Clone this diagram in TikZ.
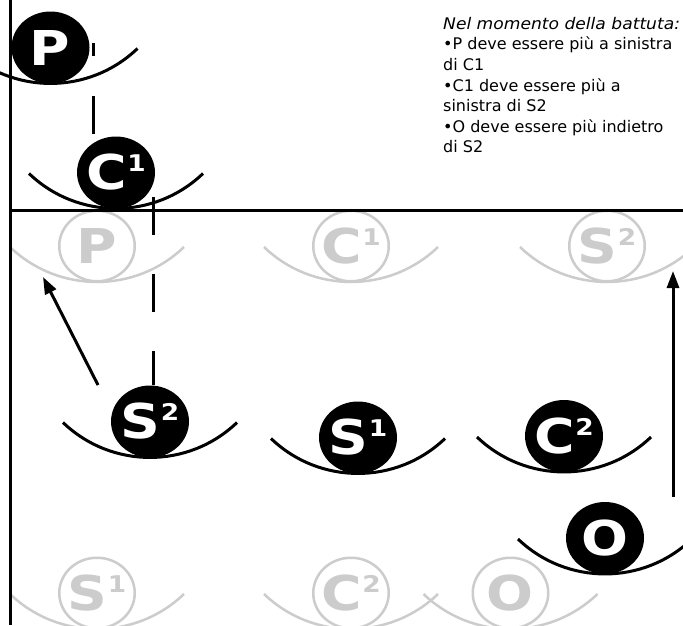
\documentclass[tikz,border=0pt]{standalone}
\usepackage{fontspec}
\setmainfont{DejaVu Sans}
\usetikzlibrary{shapes.geometric,calc,arrows.meta}
\definecolor{lgrey}{HTML}{CCCCCC}
\newcommand\lab[2]{\scalebox{1.15}[1]{\fontsize{48}{48}\selectfont\bfseries #1\kern0.5pt\raisebox{18.2pt}{\fontsize{23}{23}\selectfont #2}}}
\newcommand\cradlearc[2]{\draw[#1] ($(#2)+(-87,1)$) .. controls ($(#2)+(-38.4,47.6)$) and ($(#2)+(38.4,47.6)$) .. ($(#2)+(87,1)$);}
\begin{document}
\begin{tikzpicture}[x=1pt,y=-1pt,
  blk/.style={ellipse, fill=black, minimum width=78pt, minimum height=72pt, inner sep=0pt},
  gry/.style={ellipse, draw=lgrey, line width=2.5pt, minimum width=75.5pt, minimum height=70.5pt, inner sep=0pt},
  blktxt/.style={text=white, inner sep=0pt},
  grytxt/.style={text=lgrey, inner sep=0pt},
  barc/.style={line width=3pt, black},
  garc/.style={line width=2.5pt, lgrey},
  axisline/.style={line width=3pt, black},
  guide/.style={line width=3pt, black},
  mv/.style={line width=3pt, black, -{Triangle[length=17pt,width=12pt]}},
  note/.style={anchor=base west, inner sep=0pt, font=\fontsize{16}{20}\selectfont}
]
\useasboundingbox (0,0) rectangle (683,625);
\clip (0,0) rectangle (683,625);
\fill[white] (0,0) rectangle (683,625);

% grey (target) positions, top row
\node[gry] (gp) at (97,246) {};
\node[gry] (gc1) at (351,246) {};
\node[gry] (gs2) at (607,246) {};
% grey bottom row
\node[gry] (gs1) at (97,593) {};
\node[gry] (gc2) at (351,593) {};
\node[gry] (go) at (510.5,593) {};
\cradlearc{garc}{gp}
\cradlearc{garc}{gc1}
\cradlearc{garc}{gs2}
\cradlearc{garc}{gs1}
\cradlearc{garc}{gc2}
\cradlearc{garc}{go}
\node[grytxt] (gpt) at (gp) {\lab{P}{}};
\node[grytxt] (gc1t) at (gc1) {\lab{C}{1}};
\node[grytxt] (gs2t) at (gs2) {\lab{S}{2}};
\node[grytxt] (gs1t) at (gs1) {\lab{S}{1}};
\node[grytxt] (gc2t) at (gc2) {\lab{C}{2}};
\node[grytxt] (got) at (go) {\lab{O}{}};

% axes
\coordinate (ax0) at (10,0);
\coordinate (ax1) at (10,625);
\coordinate (ay0) at (10,210);
\coordinate (ay1) at (683,210);
\draw[axisline] (ax0) -- (ax1);
\draw[axisline] (ay0) -- (ay1);

% black players
\node[blk] (p) at (50.5,47.5) {};
\node[blk] (c1) at (116,172.5) {};
\node[blk] (s2) at (150,421.5) {};
\node[blk] (s1) at (358,437.5) {};
\node[blk] (c2) at (564,436) {};
\node[blk] (o) at (605,538) {};
\cradlearc{barc}{p}
\cradlearc{barc}{c1}
\cradlearc{barc}{s2}
\cradlearc{barc}{s1}
\cradlearc{barc}{c2}
\cradlearc{barc}{o}
\node[blktxt] (pt) at (p) {\lab{P}{}};
\node[blktxt] (c1t) at (c1) {\lab{C}{1}};
\node[blktxt] (s2t) at (s2) {\lab{S}{2}};
\node[blktxt] (s1t) at (s1) {\lab{S}{1}};
\node[blktxt] (c2t) at (c2) {\lab{C}{2}};
\node[blktxt] (ot) at (o) {\lab{O}{}};

% dashed guides
\coordinate (d1) at (93,43);
\coordinate (d2) at (153,197);
\draw[guide, dash pattern=on 38pt off 40pt, dash phase=25pt] (d1) -- (d1 |- c1.north);
\draw[guide, dash pattern=on 38pt off 39pt] (d2) -- (d2 |- s2.north);

% movement arrows
\coordinate (m1s) at (98,385);
\coordinate (m1e) at (43,277);
\coordinate (m2s) at (673,497);
\coordinate (m2e) at (673,271);
\draw[mv] (m1s) -- (m1e);
\draw[mv] (m2s) -- (m2e);

% note
\node[note] (t1) at (443,29.3) {\scalebox{1.07}[1]{\itshape Nel momento della battuta:}};
\node[note] (t2) at (443,49.9) {•P deve essere più a sinistra};
\node[note] (t3) at (443,70.5) {di C1};
\node[note] (t4) at (443,91.1) {•C1 deve essere più a};
\node[note] (t5) at (443,111.7) {sinistra di S2};
\node[note] (t6) at (443,132.3) {•O deve essere più indietro};
\node[note] (t7) at (443,152.9) {di S2};
\end{tikzpicture}
\end{document}
